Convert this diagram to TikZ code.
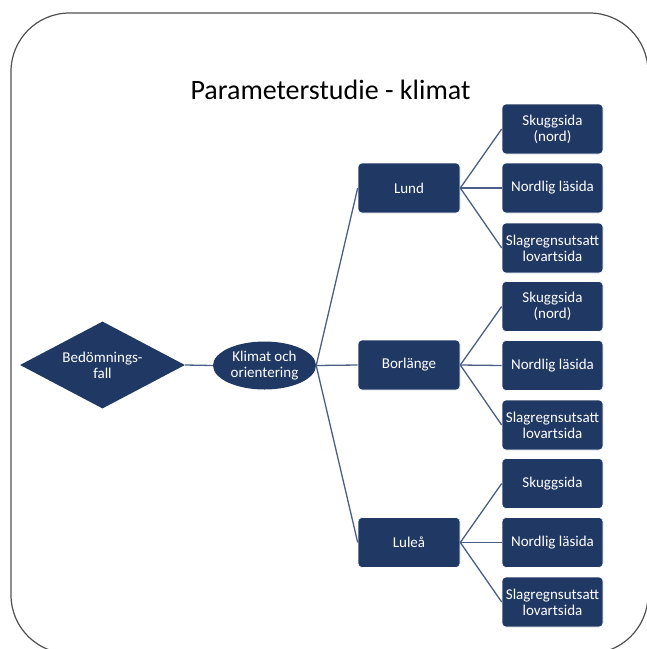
\documentclass[tikz,border=0pt]{standalone}
\usepackage{fontspec}
\setmainfont{Carlito}
\usetikzlibrary{shapes.geometric}
\definecolor{navy}{HTML}{203864}
\definecolor{linkcol}{HTML}{4A5E86}
\definecolor{framecol}{HTML}{505050}
\begin{document}
\begin{tikzpicture}[x=1pt,y=-1pt,
  every node/.style={font=\fontsize{15}{16}\selectfont, align=center, text=white},
  boxnode/.style={rectangle, rounded corners=4pt, fill=navy, draw=white, line width=0.6pt,
    minimum width=102pt, minimum height=50pt, inner sep=0pt},
  leafnode/.style={boxnode, minimum width=101pt},
  link/.style={draw=linkcol, line width=1.3pt}]
\useasboundingbox (0,0) rectangle (647,649);
\clip (0,0) rectangle (647,649);
% outer frame
\draw[framecol, line width=1.2pt, rounded corners=58.5pt] (11,13) rectangle (648,653.5);
% title
\node[text=black, font=\fontsize{28}{32}\selectfont] (title) at (330.5,90) {Parameterstudie - klimat};
% root and climate node
\node[diamond, fill=navy, minimum width=165pt, minimum height=87pt, inner sep=0pt, shape aspect=1.9] (case) at (102.5,365) {Bedömnings-\\fall};
\node[ellipse, fill=navy, minimum width=103pt, minimum height=48pt, inner sep=0pt] (climate) at (264.5,365.5) {Klimat och\\orientering};
\draw[link] (case.east) -- (climate.west);
% locations
\node[boxnode] (lund) at (409,188) {Lund};
\node[boxnode] (borl) at (409,365) {Borlänge};
\node[boxnode] (lulea) at (409,542.5) {Luleå};
\foreach \c in {lund,borl,lulea} \draw[link] (climate.east) -- (\c.west);
% orientations
\node[leafnode] (lund1) at (552.5,129) {Skuggsida\\(nord)};
\node[leafnode] (lund2) at (552.5,188) {Nordlig läsida};
\node[leafnode] (lund3) at (552.5,248) {Slagregnsutsatt\\lovartsida};
\node[leafnode] (borl1) at (552.5,306.5) {Skuggsida\\(nord)};
\node[leafnode] (borl2) at (552.5,365.5) {Nordlig läsida};
\node[leafnode] (borl3) at (552.5,425) {Slagregnsutsatt\\lovartsida};
\node[leafnode] (lulea1) at (552.5,483.5) {Skuggsida};
\node[leafnode] (lulea2) at (552.5,542.5) {Nordlig läsida};
\node[leafnode] (lulea3) at (552.5,602) {Slagregnsutsatt\\lovartsida};
\foreach \c in {lund,borl,lulea}
  \foreach \i in {1,2,3}
    \draw[link] (\c.east) -- (\c\i.west);
\end{tikzpicture}
\end{document}
